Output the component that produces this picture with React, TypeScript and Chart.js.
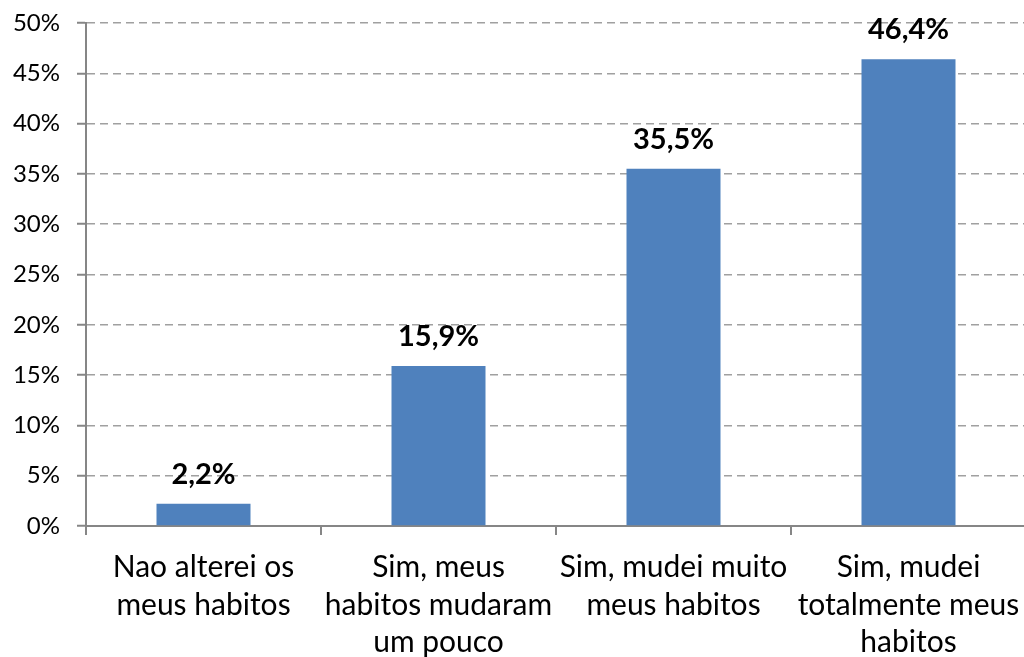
import React, { useEffect, useRef } from "react";
import { Chart, registerables } from "chart.js";

Chart.register(...registerables);

const categories: string[][] = [
  ["Nao alterei os", "meus habitos"],
  ["Sim, meus", "habitos mudaram", "um pouco"],
  ["Sim, mudei muito", "meus habitos"],
  ["Sim, mudei", "totalmente meus", "habitos"],
];
const values: number[] = [2.2, 15.9, 35.5, 46.4];
const valueLabels: string[] = ["2,2%", "15,9%", "35,5%", "46,4%"];
const yMin = 0;
const yMax = 50;
const yStep = 5;

const FONT = "Lato, 'Open Sans', sans-serif";

const dataLabelPlugin = {
  id: "dataLabels",
  afterDatasetsDraw(chart: any) {
    const ctx = chart.ctx;
    const meta = chart.getDatasetMeta(0);
    ctx.save();
    ctx.font = `bold 29px ${FONT}`;
    ctx.fillStyle = "#000000";
    ctx.textAlign = "center";
    ctx.textBaseline = "alphabetic";
    meta.data.forEach((bar: any, i: number) => {
      ctx.fillText(valueLabels[i], bar.x, bar.y - 20);
    });
    ctx.restore();
  },
};

export default function App() {
  const canvasRef = useRef<HTMLCanvasElement | null>(null);

  useEffect(() => {
    const canvas = canvasRef.current;
    if (!canvas) return;
    const chart = new Chart(canvas, {
      type: "bar",
      data: {
        labels: categories,
        datasets: [
          {
            data: values,
            backgroundColor: "#4F81BD",
            borderWidth: 0,
            categoryPercentage: 1,
            barPercentage: 0.4,
          },
        ],
      },
      options: {
        responsive: false,
        animation: false,
        events: [],
        layout: { padding: { top: 23, right: 14, bottom: 0, left: 0 } },
        plugins: {
          legend: { display: false },
          tooltip: { enabled: false },
          title: { display: false },
        },
        scales: {
          x: {
            offset: true,
            grid: {
              display: true,
              drawOnChartArea: false,
              drawTicks: true,
              tickLength: 9,
              offset: true,
              color: "#868686",
              lineWidth: 2,
            },
            border: { display: true, color: "#868686", width: 2 },
            ticks: {
              color: "#000000",
              padding: 14,
              maxRotation: 0,
              autoSkip: false,
              font: { family: FONT, size: 30, lineHeight: "37.5px" },
            },
            afterFit: (scale: any) => {
              scale.height = 131;
              scale.paddingLeft = 0;
              scale.paddingRight = 0;
            },
          },
          y: {
            min: yMin,
            max: yMax,
            grid: {
              display: true,
              drawOnChartArea: true,
              drawTicks: true,
              tickLength: 9,
              color: "#A0A0A0",
              lineWidth: 1.5,
              tickColor: "#868686",
              tickWidth: 2,
            },
            border: { display: true, color: "#868686", width: 2, dash: [8, 5] },
            ticks: {
              stepSize: yStep,
              color: "#000000",
              padding: 17,
              font: { family: FONT, size: 24 },
              callback: (v: any) => `${v}%`,
            },
            afterFit: (scale: any) => {
              scale.width = 86;
              scale.paddingTop = 0;
              scale.paddingBottom = 0;
            },
          },
        },
      },
      plugins: [dataLabelPlugin],
    });
    return () => chart.destroy();
  }, []);

  return (
    <div
      style={{
        position: "fixed",
        left: 0,
        top: 0,
        width: 1024,
        height: 657,
        overflow: "hidden",
        background: "#ffffff",
      }}
    >
      <canvas ref={canvasRef} width={1040} height={657} style={{ display: "block" }} />
    </div>
  );
}
